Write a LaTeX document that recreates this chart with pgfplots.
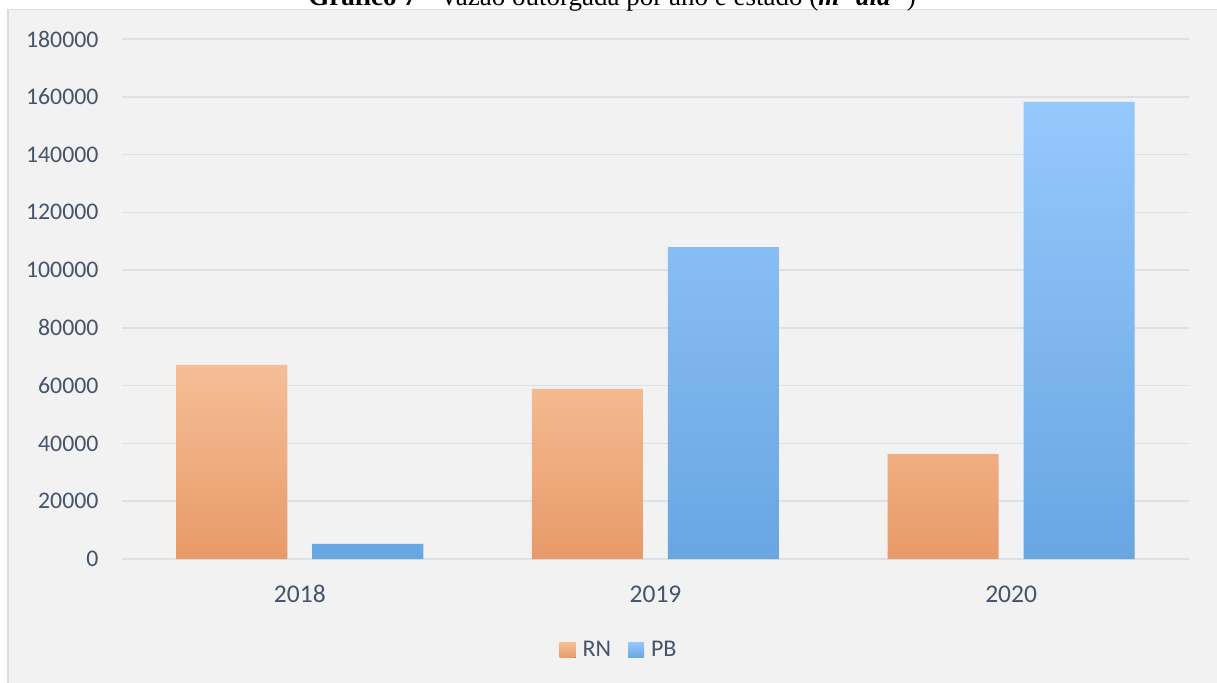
\documentclass[border=0pt]{standalone}
\usepackage{pgfplots}
\pgfplotsset{compat=1.18}
\usepackage{fontspec}
\setmainfont{Carlito}
\newfontfamily\titlefont{Liberation Serif}
\definecolor{bgc}{HTML}{F2F2F2}
\definecolor{bordc}{HTML}{D9DEE6}
\definecolor{gridc}{HTML}{DCE1E7}
\definecolor{txtc}{HTML}{44546A}
\definecolor{rnTop}{HTML}{F5BE96}
\definecolor{rnMid}{HTML}{F8B17D}
\definecolor{rnBot}{HTML}{E89A68}
\definecolor{pbTop}{HTML}{96C8FC}
\definecolor{pbMid}{HTML}{80BDFD}
\definecolor{pbBot}{HTML}{68A6E2}
\begin{document}
\begin{tikzpicture}
\fill[bgc] (8bp,-9.5bp) rectangle (1225bp,-690bp);
\draw[bordc, line width=1.2bp] (8bp,-690bp) -- (8bp,-9.5bp) -- (1225bp,-9.5bp);
\node[anchor=base, font=\titlefont\fontsize{27bp}{31bp}\selectfont, text=black, inner sep=0pt] at (612bp,-5.5bp)
  {\textbf{Gráfico 7} - Vazão outorgada por ano e estado (\textbf{\textit{m\textsuperscript{3} dia\textsuperscript{-1}}})};
\begin{axis}[
  at={(122bp,-559bp)}, anchor=south west,
  scale only axis, width=1067bp, height=520bp,
  xmin=-0.5, xmax=2.5, ymin=0, ymax=180000,
  xtick={0,1,2}, xticklabels={2018,2019,2020},
  ytick={0,20000,...,180000},
  scaled y ticks=false,
  yticklabel={\pgfmathprintnumber[fixed, precision=0, 1000 sep={}, assume math mode=true]{\tick}},
  major tick length=0pt,
  axis line style={draw=none},
  ymajorgrids,
  major grid style={color=gridc, line width=1.6bp},
  yticklabel style={font=\fontsize{23.8bp}{28bp}\selectfont, text=txtc, xshift=-20bp},
  xticklabel style={font=\fontsize{25.5bp}{30bp}\selectfont, text=txtc, yshift=-23bp},
  ybar, bar width=111bp,
  legend style={at={(0.4649,-0.175)}, anchor=center, legend columns=-1, draw=none, fill=none,
    font=\fontsize{24bp}{28bp}\selectfont, text=txtc,
    nodes={inner sep=0pt},
    /tikz/every odd column/.append style={column sep=0pt},
    /tikz/every even column/.append style={column sep=17bp}},
  legend image code/.code={\fill[#1] (0bp,-7.5bp) rectangle (16bp,7.5bp); \path (23bp,0bp);},
]
\addplot[draw=none, top color=rnTop, middle color=rnMid, bottom color=rnBot, bar shift=-68bp]
  coordinates {(0,67200) (1,58900) (2,36300)};
\addplot[draw=none, top color=pbTop, middle color=pbMid, bottom color=pbBot, bar shift=68bp]
  coordinates {(0,5200) (1,108000) (2,158200)};
\legend{RN, PB}
\end{axis}
\pgfresetboundingbox
\path[use as bounding box] (0,0) rectangle (1217bp,-683bp);
\end{tikzpicture}
\end{document}
